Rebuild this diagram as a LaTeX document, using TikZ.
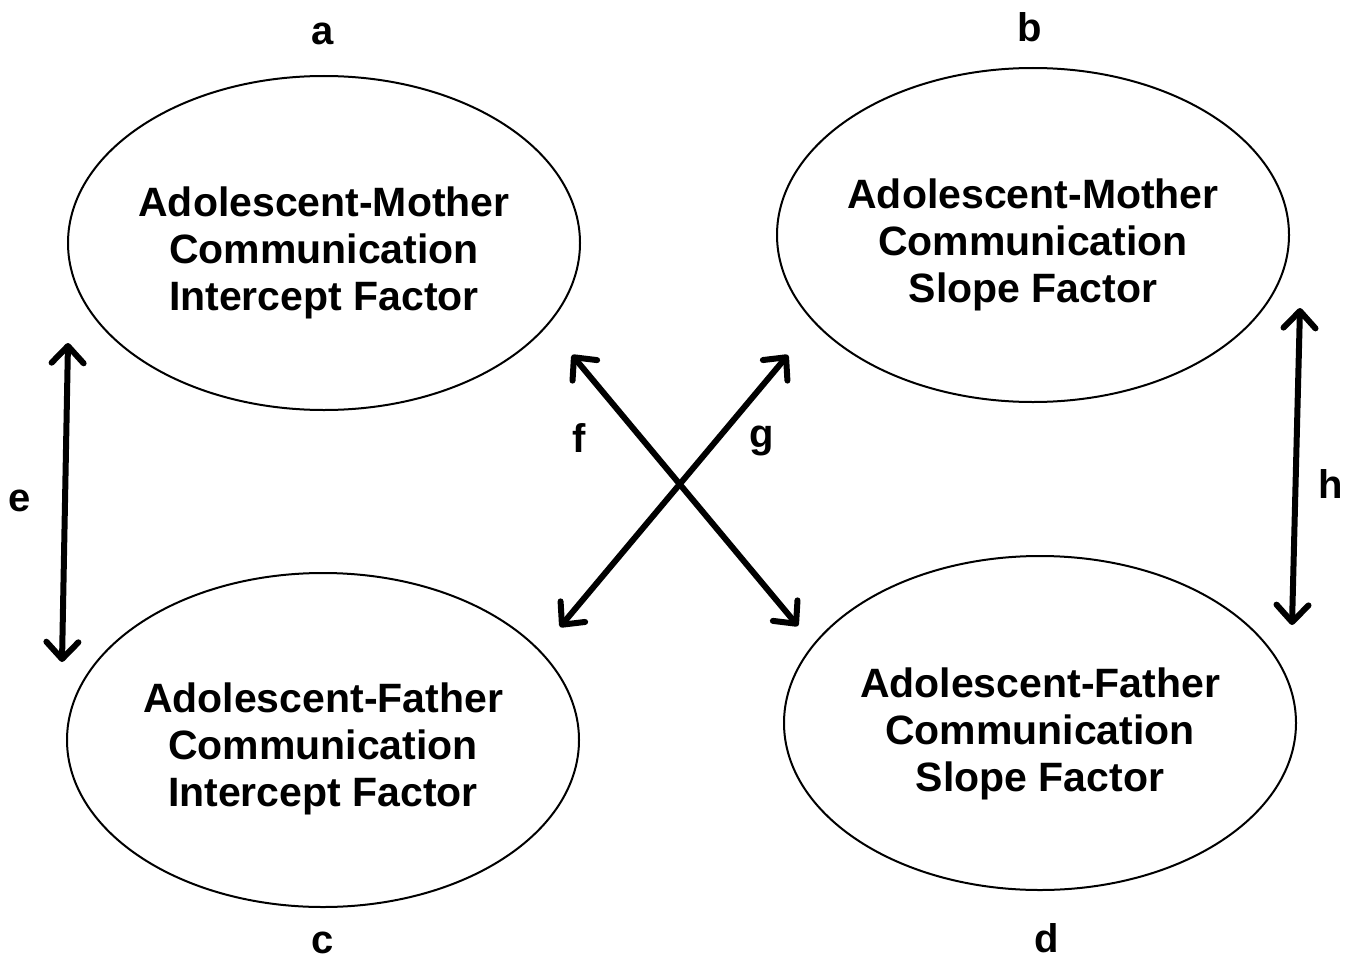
\documentclass[tikz,border=0pt]{standalone}
\usepackage{fontspec}
\setmainfont{Liberation Sans}
\usetikzlibrary{shapes.geometric,arrows.meta}
\begin{document}
\begin{tikzpicture}[x=1pt,y=-1pt,
  factor/.style={ellipse,draw,line width=2pt,minimum width=512pt,minimum height=334pt,inner sep=0pt},
  ftext/.style={align=center,inner sep=0pt,font=\fontsize{41}{47}\selectfont\bfseries},
  lbl/.style={inner sep=0pt,font=\fontsize{40}{44}\selectfont\bfseries},
  dbl/.style={line width=6pt,line cap=round,{Straight Barb[length=17pt,width=32pt,line width=6pt,round]}-{Straight Barb[length=17pt,width=32pt,line width=6pt,round]}}]
\useasboundingbox (0,0) rectangle (1357,958);
\node[factor] (am) at (324,243) {};
\node[factor] (bm) at (1033,235) {};
\node[factor] (cf) at (323,740) {};
\node[factor] (df) at (1040,723) {};
\node[ftext] (amt) at (324,253) {Adolescent-Mother\\Communication\\Intercept Factor};
\node[ftext] (bmt) at (1033,245) {Adolescent-Mother\\Communication\\Slope Factor};
\node[ftext] (cft) at (323,749) {Adolescent-Father\\Communication\\Intercept Factor};
\node[ftext] (dft) at (1040,734) {Adolescent-Father\\Communication\\Slope Factor};
\node[lbl] (la) at (323,34) {a};
\node[lbl] (lb) at (1030,27) {b};
\node[lbl] (lc) at (323,943) {c};
\node[lbl] (ld) at (1047,938) {d};
\node[lbl] (le) at (20,501) {e};
\node[lbl] (lf) at (579,438) {f};
\node[lbl] (lg) at (762,441) {g};
\node[lbl] (lh) at (1331,484) {h};
\coordinate (e1) at (68,343);
\coordinate (e2) at (62,662);
\coordinate (h1) at (1300,308);
\coordinate (h2) at (1292,625);
\coordinate (f1) at (572,355);
\coordinate (f2) at (798,626);
\coordinate (g1) at (788,355);
\coordinate (g2) at (560,627);
\draw[dbl] (e1) -- (e2);
\draw[dbl] (h1) -- (h2);
\draw[dbl] (f1) -- (f2);
\draw[dbl] (g1) -- (g2);
\end{tikzpicture}
\end{document}
